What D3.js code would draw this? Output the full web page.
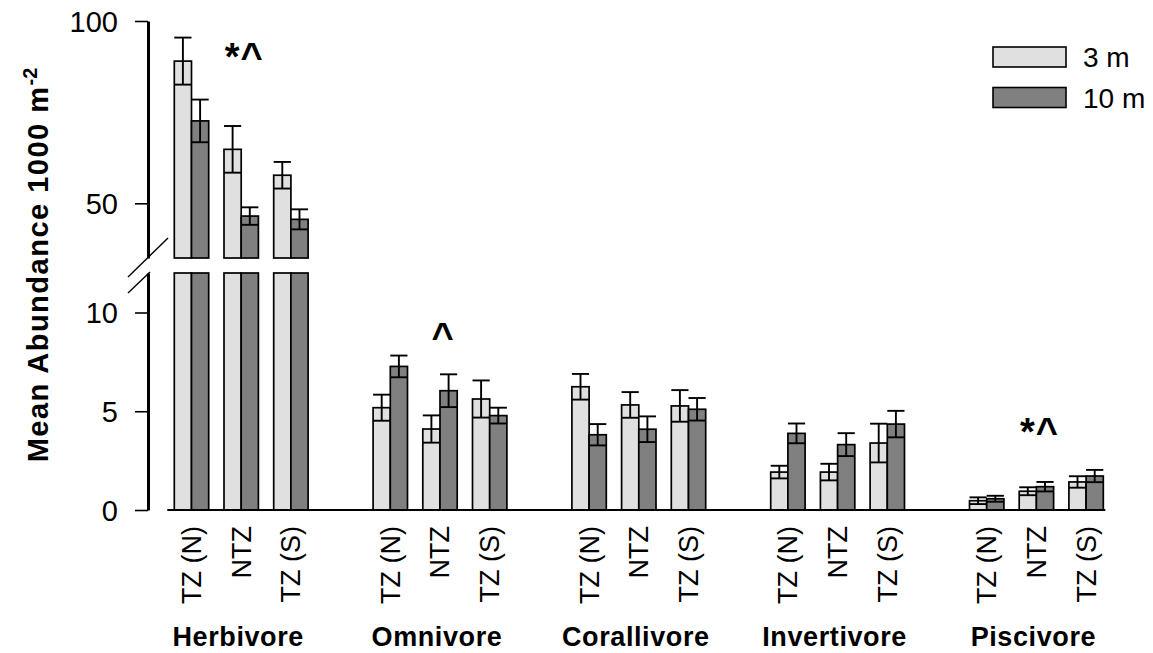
<!DOCTYPE html>
<html>
<head>
<meta charset="utf-8">
<script src="https://cdn.jsdelivr.net/npm/d3@7"></script>
<style>
    body { margin: 0; background: #fff; }
    svg { display: block; font-family: 'Liberation Sans', Arial, sans-serif; }
</style>
</head>
<body>
<div id="chart"></div>
<script>
// Trophic groups, sites within each group, depths
const GROUPS = ['Herbivore', 'Omnivore', 'Corallivore', 'Invertivore', 'Piscivore'];
const SITES = ['TZ (N)', 'NTZ', 'TZ (S)'];
const DEPTHS = ['3 m', '10 m'];

// Means and standard errors, ordered group by group, site by site
const MEAN_3M = [89.0, 64.8, 57.7, 5.18, 4.10, 5.62, 6.24, 5.32, 5.27, 1.92, 1.92, 3.39, 0.47, 0.95, 1.42];
const SE_3M = [6.45, 6.4, 3.65, 0.66, 0.69, 0.94, 0.65, 0.65, 0.8, 0.32, 0.42, 0.98, 0.17, 0.2, 0.29];
const MEAN_10M = [72.6, 46.5, 45.6, 7.27, 6.04, 4.78, 3.81, 4.09, 5.10, 3.88, 3.31, 4.35, 0.57, 1.18, 1.72];
const SE_10M = [5.85, 2.4, 2.75, 0.55, 0.83, 0.4, 0.54, 0.65, 0.57, 0.5, 0.58, 0.67, 0.15, 0.24, 0.31];

// Significance marks (value = text baseline)
const ANNOTATIONS = [
    { group: 'Herbivore', site: 'NTZ', label: '*^', value: 86.5 },
    { group: 'Omnivore', site: 'NTZ', label: '^', value: 8.1 },
    { group: 'Piscivore', site: 'NTZ', label: '*^', value: 3.3 }
];

// Broken y axis: lower and upper segments
const LOWER_DOMAIN = [0, 12];
const UPPER_DOMAIN = [35, 100];
const LOWER_TICKS = [0, 5, 10];
const UPPER_TICKS = [50, 100];

const COLORS = { '3 m': '#e0e0e0', '10 m': '#808080', ink: '#000' };

const width = 1153, height = 653;
const axisX = 148;

const svg = d3.select('#chart').append('svg')
    .attr('width', width)
    .attr('height', height);

// Scales
const yLower = d3.scaleLinear().domain(LOWER_DOMAIN).range([510, 273]);
const yUpper = d3.scaleLinear().domain(UPPER_DOMAIN).range([258, 21]);

const slotsPerGroup = SITES.length + 1;
const x = d3.scaleBand()
    .domain(d3.range(GROUPS.length * slotsPerGroup - 1))
    .range([174.3, 1103.3])
    .paddingInner(0.308)
    .paddingOuter(0)
    .align(0);

const xInner = d3.scaleBand().domain(DEPTHS).range([0, x.bandwidth()]);

const slotOf = (g, s) => GROUPS.indexOf(g) * slotsPerGroup + SITES.indexOf(s);

// Build bar table
const bars = [];
GROUPS.forEach((g, gi) => SITES.forEach((s, si) => {
    const i = gi * SITES.length + si;
    bars.push({ group: g, site: s, depth: '3 m', slot: slotOf(g, s), mean: MEAN_3M[i], se: SE_3M[i] });
    bars.push({ group: g, site: s, depth: '10 m', slot: slotOf(g, s), mean: MEAN_10M[i], se: SE_10M[i] });
}));

const bx = d => x(d.slot) + xInner(d.depth);
const bw = xInner.bandwidth();
const broken = d => d.mean > LOWER_DOMAIN[1];

const barG = svg.append('g');

// Lower segment bars
barG.selectAll('.bar-lo').data(bars).join('rect')
    .attr('class', 'bar-lo')
    .attr('x', bx)
    .attr('width', bw)
    .attr('y', d => yLower(Math.min(d.mean, LOWER_DOMAIN[1])))
    .attr('height', d => yLower(0) - yLower(Math.min(d.mean, LOWER_DOMAIN[1])))
    .attr('fill', d => COLORS[d.depth])
    .attr('stroke', COLORS.ink)
    .attr('stroke-width', 1.7);

// Upper segment bars (values above the break)
barG.selectAll('.bar-hi').data(bars.filter(broken)).join('rect')
    .attr('class', 'bar-hi')
    .attr('x', bx)
    .attr('width', bw)
    .attr('y', d => yUpper(d.mean))
    .attr('height', d => yUpper(UPPER_DOMAIN[0]) - yUpper(d.mean))
    .attr('fill', d => COLORS[d.depth])
    .attr('stroke', COLORS.ink)
    .attr('stroke-width', 1.7);

// Error bars
const yOf = d => broken(d) ? yUpper : yLower;
const err = barG.selectAll('.err').data(bars).join('g')
    .attr('class', 'err')
    .attr('stroke', COLORS.ink)
    .attr('stroke-width', 1.9);

err.append('line')
    .attr('x1', d => bx(d) + bw / 2).attr('x2', d => bx(d) + bw / 2)
    .attr('y1', d => yOf(d)(d.mean - d.se))
    .attr('y2', d => yOf(d)(d.mean + d.se));

err.append('line')
    .attr('x1', bx).attr('x2', d => bx(d) + bw)
    .attr('y1', d => yOf(d)(d.mean + d.se))
    .attr('y2', d => yOf(d)(d.mean + d.se));

err.append('line')
    .attr('x1', bx).attr('x2', d => bx(d) + bw)
    .attr('y1', d => yOf(d)(d.mean - d.se))
    .attr('y2', d => yOf(d)(d.mean - d.se));

// Y axes
const styleYAxis = g => {
    g.select('.domain').attr('stroke', COLORS.ink).attr('stroke-width', 3);
    g.selectAll('.tick line').attr('stroke', COLORS.ink).attr('stroke-width', 1.6);
    g.selectAll('text').attr('fill', COLORS.ink).style('font-size', '29px').attr('dy', '0.36em');
};

svg.append('g')
    .attr('transform', `translate(${axisX},0)`)
    .call(d3.axisLeft(yLower).tickValues(LOWER_TICKS).tickSize(13).tickSizeOuter(0).tickPadding(17))
    .call(styleYAxis);

svg.append('g')
    .attr('transform', `translate(${axisX},0)`)
    .call(d3.axisLeft(yUpper).tickValues(UPPER_TICKS).tickSize(13).tickSizeOuter(0).tickPadding(17))
    .call(styleYAxis);

// Axis break slashes
const yBreakHi = yUpper(UPPER_DOMAIN[0]);
const yBreakLo = yLower(LOWER_DOMAIN[1]);
svg.append('line')
    .attr('x1', axisX - 20).attr('y1', yBreakHi + 19)
    .attr('x2', axisX + 20).attr('y2', yBreakHi - 20)
    .attr('stroke', COLORS.ink).attr('stroke-width', 1.4);
svg.append('line')
    .attr('x1', axisX - 20).attr('y1', yBreakLo + 20)
    .attr('x2', axisX + 2).attr('y2', yBreakLo - 1)
    .attr('stroke', COLORS.ink).attr('stroke-width', 1.4);

// X axis baseline
svg.append('line')
    .attr('x1', x.range()[0] - 7).attr('x2', x.range()[1] + 2)
    .attr('y1', yLower(0)).attr('y2', yLower(0))
    .attr('stroke', COLORS.ink).attr('stroke-width', 2);

// Site labels (rotated)
const siteSlots = bars.filter(d => d.depth === DEPTHS[0]);
svg.append('g')
    .attr('transform', `translate(0,${yLower(0)})`)
    .call(d3.axisBottom(x)
        .tickValues(siteSlots.map(d => d.slot))
        .tickFormat(i => SITES[i % slotsPerGroup])
        .tickSize(0))
    .call(g => g.select('.domain').remove())
    .call(g => g.selectAll('text')
        .attr('transform', 'rotate(-90)')
        .attr('x', -16)
        .attr('y', 0)
        .attr('dy', '0.35em')
        .attr('fill', COLORS.ink)
        .style('text-anchor', 'end')
        .style('font-size', '27px'));

// Group labels
svg.append('g').selectAll('text').data(GROUPS).join('text')
    .attr('x', (g, gi) => (x(gi * slotsPerGroup) + x(gi * slotsPerGroup + SITES.length - 1) + x.bandwidth()) / 2 - 3)
    .attr('y', 646)
    .attr('text-anchor', 'middle')
    .style('font-size', '27px')
    .style('font-weight', 'bold')
    .style('letter-spacing', '0.6px')
    .text(d => d);

// Y title
const title = svg.append('text')
    .attr('transform', `translate(38,${265}) rotate(-90)`)
    .attr('text-anchor', 'middle')
    .attr('dy', '0.35em')
    .style('font-size', '29px')
    .style('font-weight', 'bold')
    .style('letter-spacing', '1.5px');
title.append('tspan').text('Mean Abundance 1000 m');
title.append('tspan')
    .attr('dy', '-0.55em')
    .style('font-size', '20px')
    .style('letter-spacing', '0px')
    .text('-2');

// Significance marks
svg.append('g').selectAll('text').data(ANNOTATIONS).join('text')
    .attr('x', d => x(slotOf(d.group, d.site)) + x.bandwidth() / 2 + 3)
    .attr('y', d => (d.value > LOWER_DOMAIN[1] ? yUpper : yLower)(d.value))
    .attr('text-anchor', 'middle')
    .style('font-size', '38px')
    .style('font-weight', 'bold')
    .style('letter-spacing', '1px')
    .text(d => d.label);

// Legend
const legend = svg.append('g').attr('transform', 'translate(993,47)');
const li = legend.selectAll('g').data(DEPTHS).join('g')
    .attr('transform', (d, i) => `translate(0,${i * 40.5})`);
li.append('rect')
    .attr('width', 73).attr('height', 20)
    .attr('fill', d => COLORS[d])
    .attr('stroke', COLORS.ink)
    .attr('stroke-width', 1.6);
li.append('text')
    .attr('x', 90)
    .attr('y', 10)
    .attr('dy', '0.36em')
    .style('font-size', '28px')
    .text(d => d);
</script>
</body>
</html>
